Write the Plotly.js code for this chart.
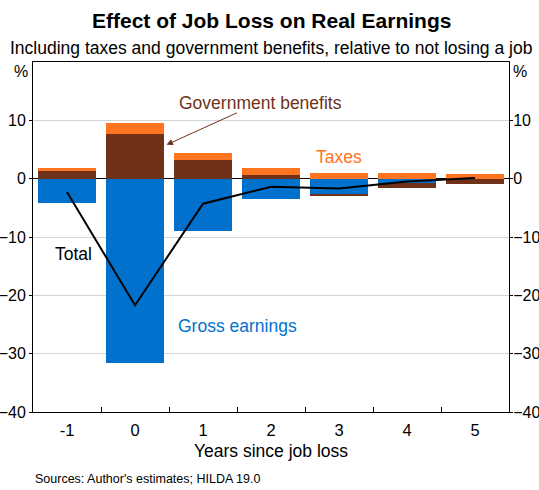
<!DOCTYPE html>
<html>
<head>
<meta charset="utf-8">
<script src="https://cdn.plot.ly/plotly-3.0.1.min.js"></script>
<style>html,body{margin:0;padding:0;background:#fff}#chart{width:539px;height:490px}</style>
</head>
<body>
<div id="chart"></div>
<script>
var years = [-1, 0, 1, 2, 3, 4, 5];
var tickLabels = ['-1', '0', '1', '2', '3', '4', '5'];
var grossEarnings = [-4.1, -31.6, -9.0, -3.4, -2.6, -0.8, -0.1];
var govBenefits = [1.25, 7.6, 3.2, 0.57, -0.3, -0.74, -0.86];
var taxes = [0.5, 2.0, 1.27, 1.32, 1.03, 0.9, 0.74];
var total = [-2.3, -21.7, -4.3, -1.4, -1.7, -0.5, 0.1];
var yTicks = [-40, -30, -20, -10, 0, 10];

var FONT = 'Arial, "Liberation Sans", sans-serif';
var BLUE = '#0072CE', BROWN = '#6F3219', ORANGE = '#FF7420';
var FS = 17.5;
var TFS = 16;

var traces = [
  {type: 'bar', x: years, y: grossEarnings, marker: {color: BLUE, line: {width: 0}}, width: 0.85, hoverinfo: 'skip'},
  {type: 'bar', x: years, y: govBenefits, marker: {color: BROWN, line: {width: 0}}, width: 0.85, hoverinfo: 'skip'},
  {type: 'bar', x: years, y: taxes, marker: {color: ORANGE, line: {width: 0}}, width: 0.85, hoverinfo: 'skip'},
  {type: 'scatter', mode: 'lines', x: years, y: total, line: {color: '#000', width: 2}, hoverinfo: 'skip'},
  {type: 'scatter', mode: 'lines', x: years, y: total, xaxis: 'x2', yaxis: 'y2', line: {width: 0}, opacity: 0, hoverinfo: 'skip'}
];

var layout = {
  width: 539, height: 490,
  margin: {l: 33, r: 30, t: 62, b: 78},
  paper_bgcolor: '#fff', plot_bgcolor: '#fff',
  barmode: 'relative', bargap: 0,
  showlegend: false,
  font: {family: FONT, color: '#000', size: FS},
  xaxis: {
    range: [-1.5, 5.5], tickmode: 'array', tickvals: years, ticktext: tickLabels,
    ticks: '', showgrid: false, zeroline: false,
    showline: true, linecolor: '#000', linewidth: 1, mirror: true,
    tickfont: {size: 16.5}, ticklabelstandoff: 3,
    title: {text: 'Years since job loss', font: {size: FS}, standoff: 6}
  },
  xaxis2: {
    overlaying: 'x', anchor: 'y', range: [-1.5, 5.5], tickmode: 'array',
    tickvals: [-0.5, 0.5, 1.5, 2.5, 3.5, 4.5], ticks: 'inside', ticklen: 5, tickcolor: '#000',
    showticklabels: false, showgrid: false, zeroline: false, showline: false
  },
  yaxis: {
    range: [-40, 20], tickmode: 'array', tickvals: yTicks,
    ticks: 'outside', ticklen: 3, tickcolor: '#000',
    showgrid: true, gridcolor: '#d4d4d4', gridwidth: 1,
    zeroline: true, zerolinecolor: '#000', zerolinewidth: 1,
    showline: true, linecolor: '#000', linewidth: 1, mirror: true,
    tickfont: {size: TFS}, ticklabelstandoff: 0
  },
  yaxis2: {
    overlaying: 'y', side: 'right', range: [-40, 20], tickmode: 'array', tickvals: yTicks,
    ticks: 'outside', ticklen: 3, tickcolor: '#000',
    showgrid: false, zeroline: false, showline: false, tickfont: {size: TFS}, ticklabelstandoff: -3
  },
  annotations: [
    {xref: 'paper', yref: 'paper', x: 0.5, y: 1, yshift: 42, xanchor: 'center', yanchor: 'middle', showarrow: false,
     text: '<b>Effect of Job Loss on Real Earnings</b>', font: {size: 21, family: FONT}},
    {xref: 'paper', yref: 'paper', x: 0.5, y: 1, yshift: 14, xanchor: 'center', yanchor: 'middle', showarrow: false,
     text: 'Including taxes and government benefits, relative to not losing a job', font: {size: FS, family: FONT}},
    {xref: 'paper', yref: 'paper', x: 0, xshift: -3, y: 1, yshift: -9, yanchor: 'middle', xanchor: 'right', showarrow: false, text: '%', font: {size: TFS}},
    {xref: 'paper', yref: 'paper', x: 1, xshift: 2, y: 1, yshift: -9, yanchor: 'middle', xanchor: 'left', showarrow: false, text: '%', font: {size: TFS}},
    {xref: 'x', yref: 'y', x: 1.85, y: 13.0, xanchor: 'center', yanchor: 'middle', showarrow: false,
     text: 'Government benefits', font: {size: FS, color: BROWN}},
    {xref: 'x', yref: 'y', x: 0.463, y: 5.8, ax: 1.52, ay: 11.4, axref: 'x', ayref: 'y', showarrow: true,
     arrowhead: 2, arrowsize: 1.3, arrowwidth: 1, arrowcolor: BROWN, text: ''},
    {xref: 'x', yref: 'y', x: 3.0, y: 3.7, xanchor: 'center', yanchor: 'middle', showarrow: false,
     text: 'Taxes', font: {size: FS, color: ORANGE}},
    {xref: 'x', yref: 'y', x: -0.9, y: -12.9, xanchor: 'center', yanchor: 'middle', showarrow: false,
     text: 'Total', font: {size: FS, color: '#000'}},
    {xref: 'x', yref: 'y', x: 1.5, y: -25.3, xanchor: 'center', yanchor: 'middle', showarrow: false,
     text: 'Gross earnings', font: {size: FS, color: BLUE}},
    {xref: 'paper', yref: 'paper', x: 0, y: 0, yshift: -67, xanchor: 'left', yanchor: 'middle', showarrow: false,
     text: "Sources: Author's estimates; HILDA 19.0", font: {size: 12.5}}
  ]
};

Plotly.newPlot('chart', traces, layout, {displayModeBar: false, staticPlot: true});
</script>
</body>
</html>
